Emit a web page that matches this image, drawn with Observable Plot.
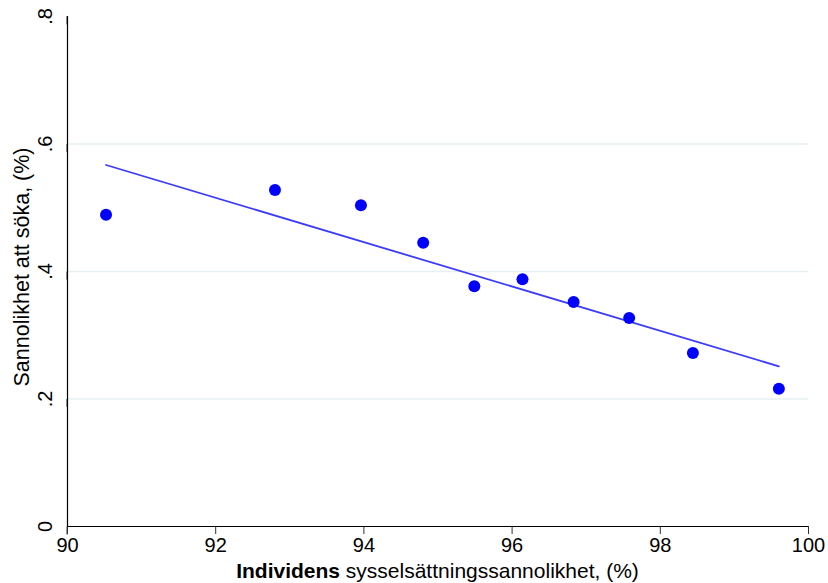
<!DOCTYPE html>
<html><head><meta charset="utf-8">
<script src="https://cdn.jsdelivr.net/npm/d3@7"></script>
<script src="https://cdn.jsdelivr.net/npm/@observablehq/plot@0.6"></script>
<style>body{margin:0;background:#fff} svg{font-family:"Liberation Sans",Arial,sans-serif}</style>
</head><body><div id="chart"></div>
<script>
const employmentProb = [90.52, 92.80, 93.96, 94.80, 95.49, 96.14, 96.83, 97.58, 98.44, 99.60];
const searchProb = [0.489, 0.528, 0.504, 0.445, 0.377, 0.388, 0.352, 0.327, 0.272, 0.216];
const xTicks = [90, 92, 94, 96, 98, 100];
const yTicks = [0, 0.2, 0.4, 0.6, 0.8];
const yTickLabels = ["0", ".2", ".4", ".6", ".8"];
const gridValues = [0.2, 0.4, 0.6];
const xTitleBold = "Individens";
const xTitleRest = " sysselsättningssannolikhet, (%)";
const yTitle = "Sannolikhet att söka, (%)";

const points = employmentProb.map((x, i) => ({x, y: searchProb[i]}));

const chart = Plot.plot({
  width: 828, height: 583,
  marginLeft: 67, marginRight: 20, marginTop: 16, marginBottom: 57,
  style: {fontFamily: "Liberation Sans, Arial, sans-serif", fontSize: "20px", background: "white", color: "black"},
  x: {domain: [90, 100]},
  y: {domain: [0, 0.8]},
  marks: [
    Plot.gridY(gridValues, {stroke: "#e6eff1", strokeOpacity: 1, strokeWidth: 1.5}),
    Plot.axisX(xTicks, {tickSize: 8, tickPadding: 3, stroke: "#333", fill: "black", label: null, fontSize: 20}),
    Plot.axisY(yTicks, {tickSize: 8, tickPadding: 8, rotate: -90, textAnchor: "middle", lineAnchor: "bottom",
      tickFormat: d => yTickLabels[yTicks.indexOf(d)], label: null, stroke: "#333", fill: "black", fontSize: 20}),
    Plot.ruleX([90], {stroke: "black", strokeWidth: 1.2}),
    Plot.ruleY([0], {stroke: "black", strokeWidth: 1.2}),
    Plot.linearRegressionY(points, {x: "x", y: "y", ci: 0, stroke: "#3b3bff", strokeWidth: 1.8}),
    Plot.dot(points, {x: "x", y: "y", r: 6, fill: "blue", stroke: null})
  ]
});
document.getElementById("chart").appendChild(chart);

const svg = d3.select(chart);
const xt = svg.append("text")
  .attr("x", 437.5).attr("y", 578)
  .attr("text-anchor", "middle").attr("font-size", 21).attr("fill", "black");
xt.append("tspan").attr("font-weight", "bold").text(xTitleBold);
xt.append("tspan").text(xTitleRest);
svg.append("text")
  .attr("transform", "translate(29,267) rotate(-90)")
  .attr("text-anchor", "middle").attr("font-size", 21.5).attr("fill", "black")
  .text(yTitle);
</script>
</body></html>
